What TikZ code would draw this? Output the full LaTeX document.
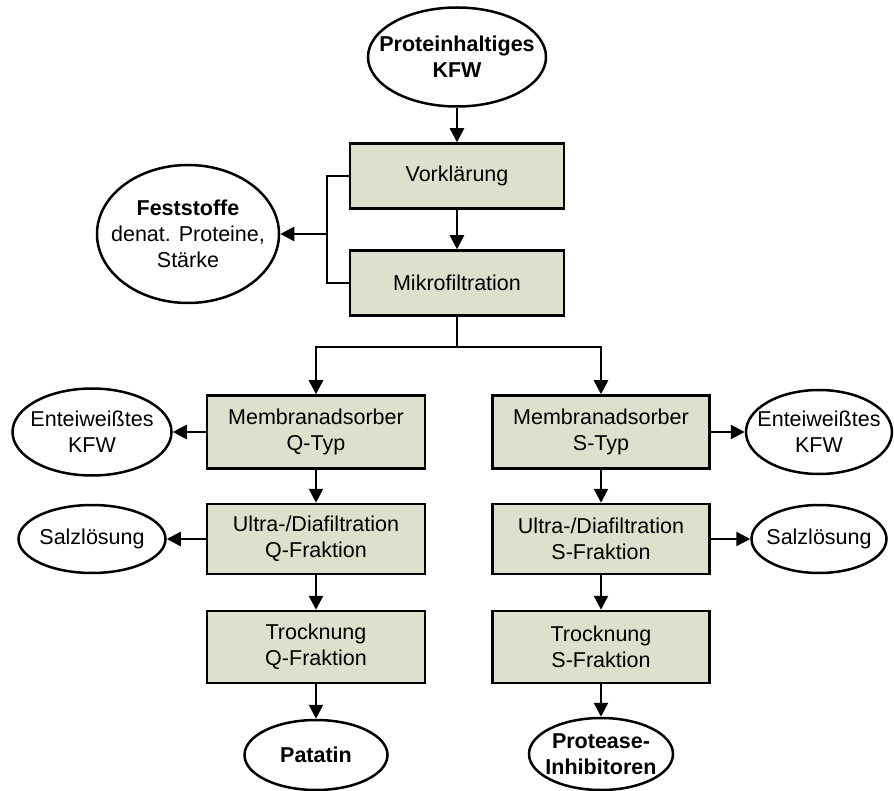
\documentclass[tikz,border=0pt]{standalone}
\usepackage{fontspec}
\setmainfont{Liberation Sans}
\usetikzlibrary{shapes.geometric,arrows.meta}
\definecolor{boxfill}{RGB}{221,224,204}
\begin{document}
\begin{tikzpicture}[x=1pt,y=-1pt,
  every node/.style={font=\fontsize{21.5}{26}\selectfont, align=center, line width=2.5pt},
  procbox/.style={draw, fill=boxfill, rectangle, inner sep=0pt},
  oval/.style={draw, ellipse, inner xsep=-15pt, inner ysep=0pt},
  conn/.style={line width=2.5pt},
  flow/.style={conn, -{Triangle[length=14pt,width=14pt]}}]
\useasboundingbox (0,0) rectangle (894,791);

% main line
\node[oval, minimum width=178, minimum height=99] (src) at (457,57) {\textbf{Proteinhaltiges}\\\textbf{KFW}};
\node[procbox, minimum width=214, minimum height=65] (vork) at (457,176) {Vorklärung};
\node[procbox, minimum width=214, minimum height=65] (mikro) at (457,283) {Mikrofiltration};
\node[oval, minimum width=182, minimum height=138] (fest) at (188,234) {\textbf{Feststoffe}\\denat. Proteine,\\Stärke};

% Q branch
\node[procbox, minimum width=218, minimum height=73] (mq) at (316,432) {Membranadsorber\\Q-Typ};
\node[procbox, minimum width=218, minimum height=70] (uq) at (316,539) {Ultra-/Diafiltration\\Q-Fraktion};
\node[procbox, minimum width=218, minimum height=72] (tq) at (316,647) {Trocknung\\Q-Fraktion};
\node[oval, minimum width=159, minimum height=87] (eq) at (92,432) {Enteiweißtes\\KFW};
\node[oval, minimum width=147, minimum height=68] (sq) at (92,539) {Salzlösung};
\node[oval, minimum width=143, minimum height=70] (pat) at (316,755) {\textbf{Patatin}};

% S branch
\node[procbox, minimum width=217, minimum height=73] (ms) at (601,432) {Membranadsorber\\S-Typ};
\node[procbox, minimum width=217, minimum height=70] (us) at (601,539) {Ultra-/Diafiltration\\S-Fraktion};
\node[procbox, minimum width=217, minimum height=72] (ts) at (601,647) {Trocknung\\S-Fraktion};
\node[oval, minimum width=146, minimum height=84] (es) at (819,432) {Enteiweißtes\\KFW};
\node[oval, minimum width=135, minimum height=68] (ss) at (819,539) {Salzlösung};
\node[oval, minimum width=144, minimum height=72] (pi) at (601,754) {\textbf{Protease-}\\\textbf{Inhibitoren}};

\coordinate (br) at (327,234);
\coordinate (split) at (457,347);

\draw[flow] (src) -- (vork);
\draw[flow] (vork) -- (mikro);
\draw[conn] (vork.west) -| (br) |- (mikro.west);
\draw[flow] (br) -- (fest.east);

\draw[conn] (mikro.south) -- (split);
\draw[flow] (split) -| (mq.north);
\draw[flow] (split) -| (ms.north);

\draw[flow] (mq) -- (uq);
\draw[flow] (uq) -- (tq);
\draw[flow] (tq) -- (pat);
\draw[flow] (mq.west) -- (eq.east);
\draw[flow] (uq.west) -- (sq.east);

\draw[flow] (ms) -- (us);
\draw[flow] (us) -- (ts);
\draw[flow] (ts) -- (pi);
\draw[flow] (ms.east) -- (es.west);
\draw[flow] (us.east) -- (ss.west);
\end{tikzpicture}
\end{document}
